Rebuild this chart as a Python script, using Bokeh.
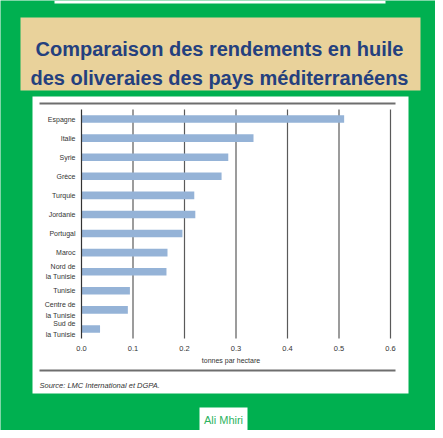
from bokeh.plotting import figure
from bokeh.models import Range1d, ColumnDataSource
from bokeh.core.properties import value
from bokeh.embed import file_html
from bokeh.resources import INLINE

# ---- data ----
countries = ["Espagne", "Italie", "Syrie", "Grèce", "Turquie", "Jordanie",
             "Portugal", "Maroc", "Nord de la Tunisie", "Tunisie",
             "Centre de la Tunisie", "Sud de la Tunisie"]
country_labels = ["Espagne", "Italie", "Syrie", "Grèce", "Turquie", "Jordanie",
                  "Portugal", "Maroc", "Nord de\nla Tunisie", "Tunisie",
                  "Centre de\nla Tunisie", "Sud de\nla Tunisie"]
yields = [0.51, 0.334, 0.285, 0.272, 0.219, 0.221, 0.196, 0.167, 0.165,
          0.094, 0.090, 0.036]
x_ticks = [0.0, 0.1, 0.2, 0.3, 0.4, 0.5, 0.6]
x_tick_labels = ["0.0", "0.1", "0.2", "0.3", "0.4", "0.5", "0.6"]
grid_ticks = [0.1, 0.2, 0.3, 0.4, 0.5, 0.6]
title_lines = ["Comparaison des rendements en huile",
               "des oliveraies des pays méditerranéens"]
x_label = "tonnes par hectare"
source_note = "Source: LMC International et DGPA."
author = "Ali Mhiri"

# ---- layout / style constants ----
GREEN = "#00b050"
FONT = value("Liberation Sans")
W, H = 435, 430
PL, PR, PT, PB = 81, 390, 109, 338      # chart plot area in canvas pixels
VMIN, VMAX = x_ticks[0], x_ticks[-1]
n = len(countries)
idx = list(range(n))

p = figure(width=W, height=H, output_backend="svg", toolbar_location=None,
           x_range=Range1d(0, W), y_range=Range1d(H, 0),
           x_axis_type=None, y_axis_type=None, min_border=0)
p.outline_line_color = None
p.background_fill_color = GREEN
p.border_fill_color = GREEN

# chart scales placed inside the canvas
k = (VMAX - VMIN) / (PR - PL)
band = (PB - PT) / n
p.extra_x_ranges = {"val": Range1d(VMIN - PL * k, VMAX + (W - PR) * k)}
p.extra_y_ranges = {"cat": Range1d(-0.5 + (H - PT) / band, -0.5 - PT / band)}

# ---- decorations ----
p.quad(left=[54], right=[385], top=[0], bottom=[3], fill_color="white", line_color=None)
p.quad(left=[20], right=[420], top=[17], bottom=[90], fill_color="#e9d29b", line_color=None)
p.quad(left=[32], right=[408], top=[96], bottom=[393], fill_color="white", line_color=None)
p.quad(left=[199], right=[247], top=[407], bottom=[431], fill_color="white", line_color=None)
p.segment(x0=[39, 39], y0=[103, 370], x1=[395, 395], y1=[103, 370],
          line_color="#6e6e6e", line_width=2)

p.text(x=[219, 219], y=[48, 77], text=title_lines, text_align="center",
       text_baseline="alphabetic", text_font=FONT, text_font_style="bold",
       text_font_size="20px", text_color="#24407e")
p.text(x=[39], y=[385], text=[source_note], text_align="left",
       text_baseline="middle", text_font=FONT, text_font_style="italic",
       text_font_size="7.5px", text_color="#333333")
p.text(x=[223], y=[419], text=[author], text_align="center",
       text_baseline="middle", text_font=FONT, text_font_size="11px",
       text_color="#2db35f")

# ---- chart ----
kw = dict(x_range_name="val", y_range_name="cat")
src = ColumnDataSource(dict(i=idx, value=yields, label=country_labels))

# vertical grid lines
p.segment(x0=grid_ticks, y0=[-0.5] * len(grid_ticks), x1=grid_ticks,
          y1=[n - 0.5] * len(grid_ticks), line_color="#5a5a5a",
          line_width=1.2, **kw)
# bars
p.hbar(y="i", left=0, right="value", height=0.4, source=src,
       fill_color="#95b3d7", line_color=None, **kw)
# y axis line
p.segment(x0=[VMIN], y0=[-0.5], x1=[VMIN], y1=[n - 0.5],
          line_color="#333333", line_width=1.2, **kw)
# category labels
p.text(x=VMIN, y="i", text="label", source=src, x_offset=-6,
       text_align="right", text_baseline="middle", text_font=FONT,
       text_font_size="7px", text_color="#333333", text_line_height=1.5, **kw)
# x tick labels
p.text(x=x_ticks, y=[n - 0.5] * len(x_ticks), text=x_tick_labels, y_offset=10,
       text_align="center", text_baseline="middle", text_font=FONT,
       text_font_size="7.5px", text_color="#333333", **kw)
# x axis label
p.text(x=[(VMIN + VMAX) / 2], y=[n - 0.5], text=[x_label], x_offset=-5,
       y_offset=22, text_align="center", text_baseline="middle",
       text_font=FONT, text_font_size="7px", text_color="#333333", **kw)

open("out.html", "w").write(file_html(p, INLINE))
